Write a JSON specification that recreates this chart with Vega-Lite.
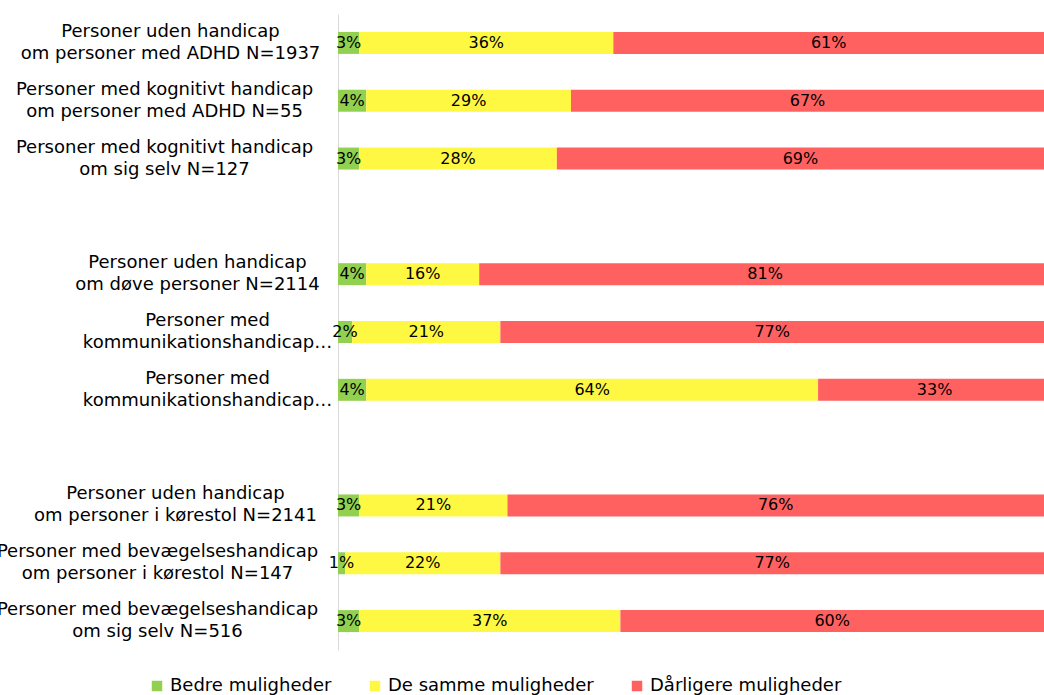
{
  "$schema": "https://vega.github.io/schema/vega-lite/v6.json",
  "width": 706,
  "height": 636,
  "autosize": {"type": "none"},
  "padding": {"left": 338, "top": 14, "right": 0, "bottom": 45},
  "background": "white",
  "config": {"view": {"stroke": null}, "font": "DejaVu Sans"},
  "data": {
    "values": [
      {"group": "Personer uden handicap|om personer med ADHD N=1937", "cat": "Bedre muligheder", "ord": 1, "pct": 0.03},
      {"group": "Personer uden handicap|om personer med ADHD N=1937", "cat": "De samme muligheder", "ord": 2, "pct": 0.36},
      {"group": "Personer uden handicap|om personer med ADHD N=1937", "cat": "Dårligere muligheder", "ord": 3, "pct": 0.61},
      {"group": "Personer med kognitivt handicap|om personer med ADHD N=55", "cat": "Bedre muligheder", "ord": 1, "pct": 0.04},
      {"group": "Personer med kognitivt handicap|om personer med ADHD N=55", "cat": "De samme muligheder", "ord": 2, "pct": 0.29},
      {"group": "Personer med kognitivt handicap|om personer med ADHD N=55", "cat": "Dårligere muligheder", "ord": 3, "pct": 0.67},
      {"group": "Personer med kognitivt handicap|om sig selv N=127", "cat": "Bedre muligheder", "ord": 1, "pct": 0.03},
      {"group": "Personer med kognitivt handicap|om sig selv N=127", "cat": "De samme muligheder", "ord": 2, "pct": 0.28},
      {"group": "Personer med kognitivt handicap|om sig selv N=127", "cat": "Dårligere muligheder", "ord": 3, "pct": 0.69},
      {"group": "Personer uden handicap|om døve personer N=2114", "cat": "Bedre muligheder", "ord": 1, "pct": 0.04},
      {"group": "Personer uden handicap|om døve personer N=2114", "cat": "De samme muligheder", "ord": 2, "pct": 0.16},
      {"group": "Personer uden handicap|om døve personer N=2114", "cat": "Dårligere muligheder", "ord": 3, "pct": 0.81},
      {"group": "Personer med|kommunikationshandicap…", "cat": "Bedre muligheder", "ord": 1, "pct": 0.02},
      {"group": "Personer med|kommunikationshandicap…", "cat": "De samme muligheder", "ord": 2, "pct": 0.21},
      {"group": "Personer med|kommunikationshandicap…", "cat": "Dårligere muligheder", "ord": 3, "pct": 0.77},
      {"group": "Personer med|kommunikationshandicap…\u200b", "cat": "Bedre muligheder", "ord": 1, "pct": 0.04},
      {"group": "Personer med|kommunikationshandicap…\u200b", "cat": "De samme muligheder", "ord": 2, "pct": 0.64},
      {"group": "Personer med|kommunikationshandicap…\u200b", "cat": "Dårligere muligheder", "ord": 3, "pct": 0.33},
      {"group": "Personer uden handicap|om personer i kørestol N=2141", "cat": "Bedre muligheder", "ord": 1, "pct": 0.03},
      {"group": "Personer uden handicap|om personer i kørestol N=2141", "cat": "De samme muligheder", "ord": 2, "pct": 0.21},
      {"group": "Personer uden handicap|om personer i kørestol N=2141", "cat": "Dårligere muligheder", "ord": 3, "pct": 0.76},
      {"group": "Personer med bevægelseshandicap|om personer i kørestol N=147", "cat": "Bedre muligheder", "ord": 1, "pct": 0.01},
      {"group": "Personer med bevægelseshandicap|om personer i kørestol N=147", "cat": "De samme muligheder", "ord": 2, "pct": 0.22},
      {"group": "Personer med bevægelseshandicap|om personer i kørestol N=147", "cat": "Dårligere muligheder", "ord": 3, "pct": 0.77},
      {"group": "Personer med bevægelseshandicap|om sig selv N=516", "cat": "Bedre muligheder", "ord": 1, "pct": 0.03},
      {"group": "Personer med bevægelseshandicap|om sig selv N=516", "cat": "De samme muligheder", "ord": 2, "pct": 0.37},
      {"group": "Personer med bevægelseshandicap|om sig selv N=516", "cat": "Dårligere muligheder", "ord": 3, "pct": 0.60}
    ]
  },
  "transform": [
    {"stack": "pct", "groupby": ["group"], "sort": [{"field": "ord"}], "as": ["x0", "x1"]},
    {"calculate": "(datum.x0 + datum.x1) / 2", "as": "xm"}
  ],
  "encoding": {
    "y": {
      "field": "group",
      "type": "nominal",
      "sort": null,
      "scale": {
        "domain": [
          "Personer uden handicap|om personer med ADHD N=1937",
          "Personer med kognitivt handicap|om personer med ADHD N=55",
          "Personer med kognitivt handicap|om sig selv N=127",
          " ",
          "Personer uden handicap|om døve personer N=2114",
          "Personer med|kommunikationshandicap…",
          "Personer med|kommunikationshandicap…\u200b",
          "  ",
          "Personer uden handicap|om personer i kørestol N=2141",
          "Personer med bevægelseshandicap|om personer i kørestol N=147",
          "Personer med bevægelseshandicap|om sig selv N=516"
        ],
        "paddingInner": 0.62,
        "paddingOuter": 0.31
      },
      "axis": {
        "title": null,
        "domainColor": "#D9D9D9",
        "domainWidth": 1,
        "ticks": false,
        "tickSize": 0,
        "grid": false,
        "labelAlign": "center",
        "labelBaseline": "middle",
        "labelFontSize": 18,
        "labelLineHeight": 22,
        "labelOffset": -11,
        "labelColor": "#000000",
        "labelLimit": 0,
        "labelExpr": "split(datum.value, '|')",
        "labelPadding": {"expr": "[168,174,174,0,141,131,131,0,163,181,181][indexof(domain('y'), datum.value)]"}
      }
    }
  },
  "layer": [
    {
      "mark": {"type": "bar", "clip": true},
      "encoding": {
        "x": {"field": "x0", "type": "quantitative", "scale": {"domain": [0, 1], "nice": false}, "axis": null},
        "x2": {"field": "x1"},
        "color": {
          "field": "cat",
          "type": "nominal",
          "scale": {
            "domain": ["Bedre muligheder", "De samme muligheder", "Dårligere muligheder"],
            "range": ["#92D050", "#FFF843", "#FF6161"]
          },
          "legend": {
            "orient": "none",
            "legendX": -190,
            "legendY": 663,
            "direction": "horizontal",
            "columns": 3,
            "title": null,
            "symbolType": "square",
            "symbolSize": 110,
            "symbolStrokeWidth": 0,
            "labelFontSize": 18,
            "labelColor": "#000000",
            "labelOffset": 4,
            "columnPadding": 34,
            "labelLimit": 0
          }
        }
      }
    },
    {
      "mark": {"type": "text", "align": "center", "baseline": "middle", "fontSize": 16, "color": "#000000"},
      "encoding": {
        "x": {"field": "xm", "type": "quantitative"},
        "text": {"field": "pct", "type": "quantitative", "format": ".0%"}
      }
    }
  ]
}
